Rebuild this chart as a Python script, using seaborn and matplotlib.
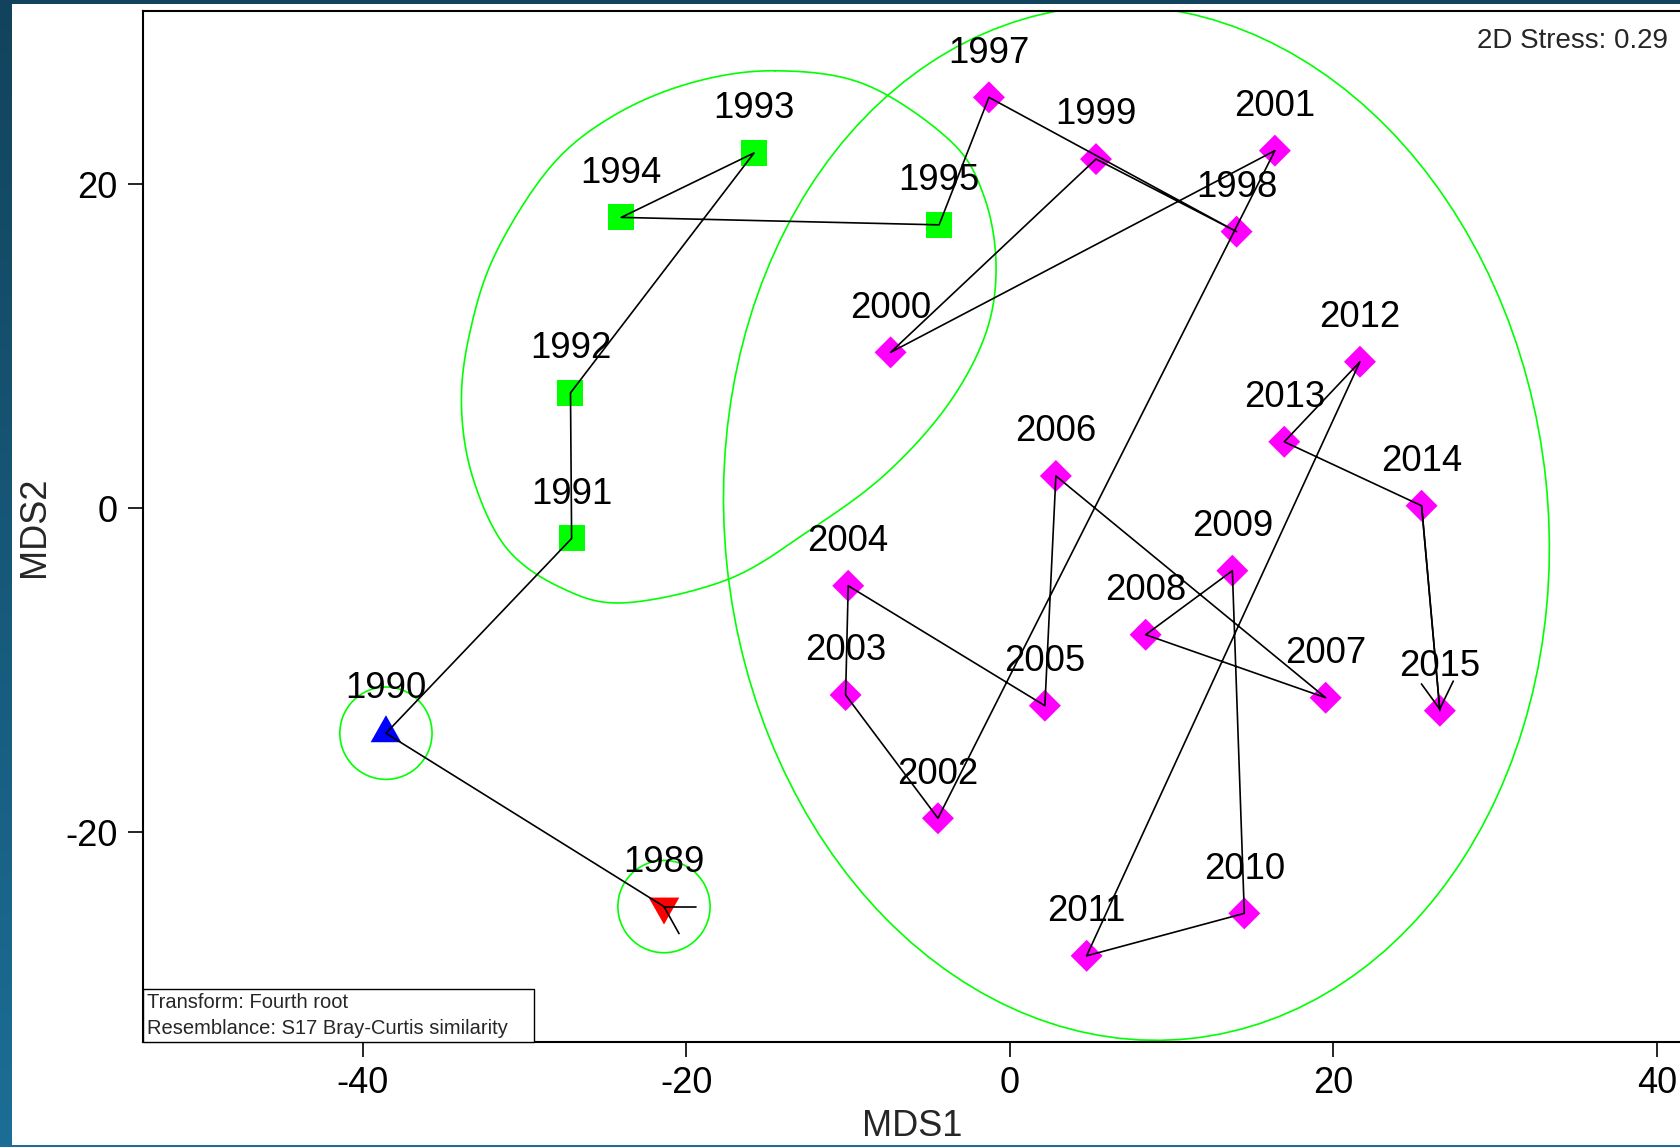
import numpy as np
import pandas as pd
import matplotlib
matplotlib.use("Agg")
import matplotlib.pyplot as plt
from matplotlib.patches import Rectangle, Circle, Ellipse, ArrowStyle
from matplotlib.colors import LinearSegmentedColormap
import seaborn as sns

# ---- nMDS ordination of yearly samples ----
years = [1989, 1990, 1991, 1992, 1993, 1994, 1995, 1997, 1998, 1999, 2000,
         2001, 2002, 2003, 2004, 2005, 2006, 2007, 2008, 2009, 2010, 2011,
         2012, 2013, 2014, 2015]
mds1 = [-21.39, -38.58, -27.10, -27.17, -15.82, -24.03, -4.38, -1.30, 14.01,
        5.32, -7.38, 16.38, -4.45, -10.16, -10.00, 2.16, 2.84, 19.52, 8.39,
        13.75, 14.49, 4.74, 21.64, 16.96, 25.45, 26.58]
mds2 = [-24.60, -13.90, -1.88, 7.11, 21.92, 17.94, 17.48, 25.35, 17.06, 21.54,
        9.61, 22.06, -19.15, -11.54, -4.80, -12.20, 1.98, -11.71, -7.82, -3.87,
        -25.02, -27.64, 9.03, 4.09, 0.14, -12.51]
cluster = (["g1"] + ["g2"] + ["g3"] * 5 + ["g4"] * 19)

# similarity contour around 1991-1995 (outline vertices in MDS units)
contour_a_x = [-14.54, -8.94, -3.68, -1.62, -0.86, -1.50, -3.91, -7.79, -12.37,
               -17.40, -23.80, -27.69, -31.12, -33.18, -33.91, -33.41, -31.81,
               -28.38, -24.49, -19.69]
contour_a_y = [26.99, 26.14, 22.66, 19.29, 15.03, 10.76, 6.27, 2.01, -1.36,
               -4.39, -5.85, -4.95, -2.48, 1.78, 6.27, 10.76, 15.70, 21.09,
               24.23, 26.25]
# similarity contour around 1997-2015: centre, width, height, tilt (deg)
contour_b = (7.82, -0.92, 50.9, 64.0, 6.0)
single_radius = 2.85

x_ticks = [-40, -20, 0, 20, 40]
y_ticks = [-20, 0, 20]
stress_text = "2D Stress: 0.29"
info_lines = ["Transform: Fourth root", "Resemblance: S17 Bray-Curtis similarity"]

df = pd.DataFrame({"year": years, "MDS1": mds1, "MDS2": mds2, "cluster": cluster})


def closed_spline(px, py, n=30):
    """Smooth closed Catmull-Rom curve through the outline vertices."""
    P = np.column_stack([px, py])
    m = len(P)
    t = np.linspace(0, 1, n, endpoint=False)[:, None]
    segs = []
    for i in range(m):
        p0, p1, p2, p3 = P[(i - 1) % m], P[i], P[(i + 1) % m], P[(i + 2) % m]
        segs.append(0.5 * (2 * p1 + (-p0 + p2) * t
                           + (2 * p0 - 5 * p1 + 4 * p2 - p3) * t ** 2
                           + (-p0 + 3 * p1 - 3 * p2 + p3) * t ** 3))
    out = np.vstack(segs + [P[:1]])
    return out[:, 0], out[:, 1]


sns.set_style("ticks")
plt.rcParams["font.family"] = ["Liberation Sans", "DejaVu Sans"]
plt.rcParams["axes.unicode_minus"] = False

W, H = 1680, 1147
fig = plt.figure(figsize=(W / 100, H / 100), dpi=100)

# framed backdrop
bg = fig.add_axes([0, 0, 1, 1], zorder=-5)
bg.axis("off")
cmap = LinearSegmentedColormap.from_list("frame", ["#1C6E96", "#12435C"])
bg.imshow(np.linspace(0, 1, 256).reshape(-1, 1), aspect="auto", cmap=cmap,
          extent=[0, 1, 0, 1], origin="lower")
bg.add_patch(Rectangle((12 / W, 2 / H), 1, (H - 6) / H, facecolor="white",
                       edgecolor="none", transform=bg.transAxes))
bg.set_xlim(0, 1)
bg.set_ylim(0, 1)

ax = fig.add_axes([143 / W, 105 / H, 1682 / W - 143 / W, 1031 / H])
ax.set_facecolor("white")

# contours
green = "#00FF00"
cx, cy = closed_spline(contour_a_x, contour_a_y)
ax.plot(cx, cy, color=green, lw=1.2, zorder=1)
bx, by, bw, bh, bang = contour_b
ax.add_patch(Ellipse((bx, by), bw, bh, angle=bang, fill=False,
                     edgecolor=green, lw=1.2, zorder=1))
for i in range(2):
    ax.add_patch(Circle((mds1[i], mds2[i]), single_radius, fill=False,
                        edgecolor=green, lw=1.2, zorder=1))

# markers (triangles centred on their centroid)
tri_up = [(-0.85, -0.5), (0.85, -0.5), (0.0, 1.0)]
tri_down = [(-0.85, 0.5), (0.85, 0.5), (0.0, -1.0)]
sns.scatterplot(data=df, x="MDS1", y="MDS2", hue="cluster", style="cluster",
                size="cluster",
                palette={"g1": "#FF0000", "g2": "#0000FF", "g3": "#00FF00", "g4": "#FF00FF"},
                markers={"g1": tri_down, "g2": tri_up, "g3": "s", "g4": "D"},
                sizes={"g1": 672, "g2": 672, "g3": 350, "g4": 265},
                linewidth=0, legend=False, ax=ax, zorder=2)

# temporal trajectory
sns.lineplot(data=df, x="MDS1", y="MDS2", sort=False, estimator=None,
             color="black", lw=1.2, ax=ax, zorder=4)
ax.annotate("", xy=(mds1[-1], mds2[-1]), xytext=(mds1[-2], mds2[-2]),
            arrowprops=dict(arrowstyle=ArrowStyle("->", head_length=19.2, head_width=11.5),
                            color="black", lw=1.2, shrinkA=0, shrinkB=0,
                            mutation_scale=1),
            zorder=4)
# start mark
ax.plot([mds1[0], mds1[0] + 1.98], [mds2[0], mds2[0]], color="black", lw=1.2, zorder=4)
ax.plot([mds1[0], mds1[0] + 0.93], [mds2[0], mds2[0] - 1.67], color="black", lw=1.2, zorder=4)

# year labels
for yr, x, y in zip(years, mds1, mds2):
    ax.annotate(str(yr), (x, y), xytext=(0, 25), textcoords="offset points",
                ha="center", va="baseline", fontsize=26.3, color="black", zorder=1.5)

ax.set_xlim(-53.6, 41.55)
ax.set_ylim(-32.96, 30.68)
ax.set_xticks(x_ticks)
ax.set_yticks(y_ticks)
ax.set_xticklabels([str(v) for v in x_ticks])
ax.set_yticklabels([str(v) for v in y_ticks])
ax.tick_params(axis="both", direction="out", length=11, width=1.2, labelsize=26,
               color="black", labelcolor="black")
ax.tick_params(axis="x", pad=6.5)
ax.tick_params(axis="y", pad=7.5)
for s in ax.spines.values():
    s.set_linewidth(1.5)
    s.set_color("black")

ax.set_xlabel("MDS1", fontsize=26)
ax.set_ylabel("MDS2", fontsize=26)
ax.xaxis.set_label_coords(0.5, -0.0824)
ax.xaxis.label.set_va("center")
ax.yaxis.set_label_coords(-0.0708, 0.5)
ax.yaxis.label.set_va("center")

ax.text(0.9909, 0.9638, stress_text, transform=ax.transAxes, ha="right",
        va="baseline", fontsize=20, zorder=6)

# information box
ax.add_patch(Rectangle((0, 0), 0.2539, 0.0514, transform=ax.transAxes,
                       facecolor="white", edgecolor="black", lw=1.0, zorder=5,
                       clip_on=False))
ax.text(0.0024, 0.0327, info_lines[0], transform=ax.transAxes, ha="left",
        va="baseline", fontsize=14.5, zorder=6)
ax.text(0.0024, 0.0078, info_lines[1], transform=ax.transAxes, ha="left",
        va="baseline", fontsize=14.5, zorder=6)

fig.savefig("out.png", dpi=100)
